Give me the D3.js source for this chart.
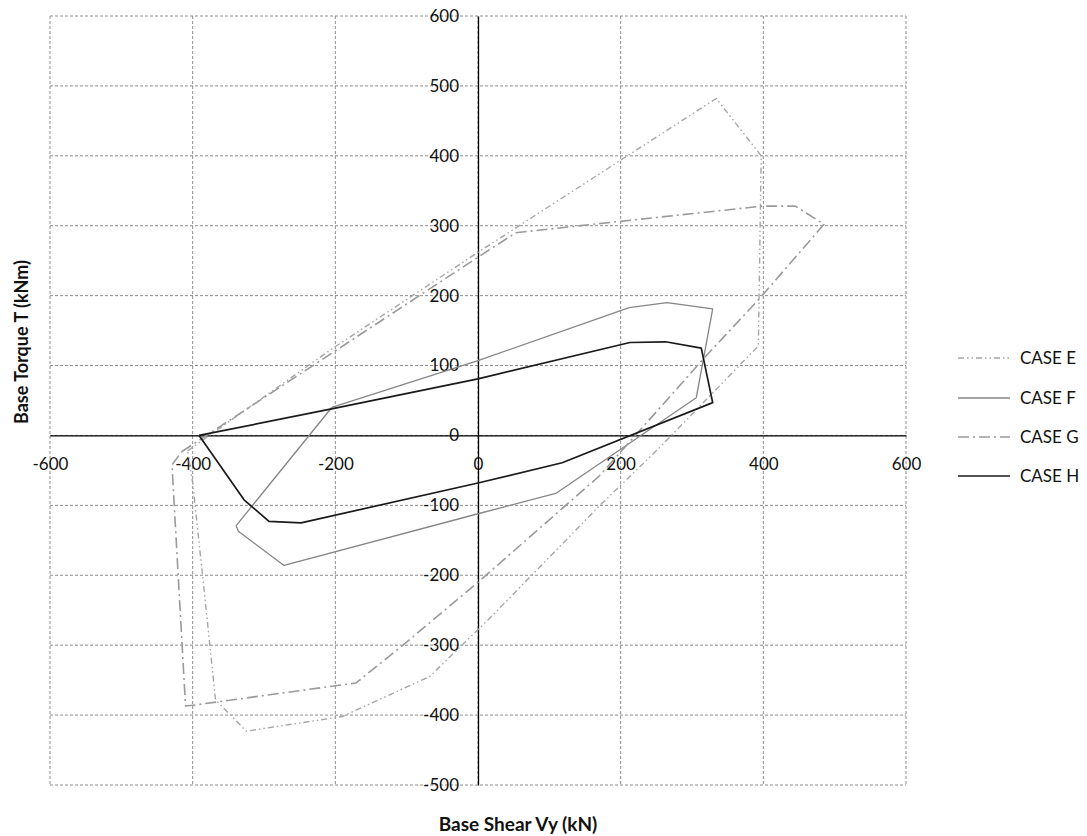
<!DOCTYPE html>
<html><head><meta charset="utf-8">
<script src="https://cdn.jsdelivr.net/npm/d3@7"></script>
<style>body{margin:0;background:#fff;} text{font-family:Lato,"Open Sans",sans-serif;}</style>
</head><body>
<svg id="c" width="1087" height="836"></svg>
<script>
const xTicks = [-600,-400,-200,0,200,400,600];
const yTicks = [-500,-400,-300,-200,-100,0,100,200,300,400,500,600];
const seriesNames = ["CASE E","CASE F","CASE G","CASE H"];
const caseE = [[-407,-22],[-206,123],[0,262],[334,482],[397,400],[393,128],[254,-18],[170,-101],[15,-263],[-68,-345],[-190,-402],[-325,-423],[-368,-378],[-386,-201],[-400,-68],[-407,-22]];
const caseF = [[-205,40],[0,107],[212,183],[265,190],[329,181],[306,54],[109,-83],[0,-112],[-272,-186],[-336,-137],[-339,-129],[-205,40]];
const caseG = [[-415,-23],[0,255],[53,290],[170,303],[398,328],[445,328],[485,302],[394,195],[319,113],[170,-58],[0,-210],[-110,-304],[-171,-354],[-400,-386],[-410,-387],[-429,-42],[-415,-23]];
const caseH = [[-391,0],[-200,39],[0,81],[213,133],[263,134],[313,125],[329,47],[118,-39],[0,-68],[-248,-125],[-293,-123],[-328,-92],[-391,0]];

const styles = [
  {data:caseE, color:"#a6a6a6", width:1.4, dash:"6,3,1.5,3,1.5,3"},
  {data:caseF, color:"#858585", width:1.3, dash:null},
  {data:caseG, color:"#9a9a9a", width:1.6, dash:"11,4,2,4"},
  {data:caseH, color:"#1a1a1a", width:1.7, dash:null}
];

const svg = d3.select("#c");
const x = d3.scaleLinear().domain([-600,600]).range([50,906]);
const y = d3.scaleLinear().domain([-500,600]).range([785,16]);

// grid
const grid = svg.append("g");
grid.selectAll("line.v").data(xTicks).enter().append("line")
  .attr("x1",d=>x(d)).attr("x2",d=>x(d)).attr("y1",y(600)).attr("y2",y(-500))
  .attr("stroke","#8c8c8c").attr("stroke-width",1).attr("stroke-dasharray","3,2");
grid.selectAll("line.h").data(yTicks).enter().append("line")
  .attr("x1",x(-600)).attr("x2",x(600)).attr("y1",d=>y(d)).attr("y2",d=>y(d))
  .attr("stroke","#8c8c8c").attr("stroke-width",1).attr("stroke-dasharray","3,2");

// axes through zero
const xAxis = d3.axisBottom(x).tickValues(xTicks).tickSize(0).tickSizeOuter(0).tickPadding(22).tickFormat(d3.format("d"));
const gx = svg.append("g").attr("transform",`translate(0,${y(0)})`).call(xAxis);
const yAxis = d3.axisLeft(y).tickValues(yTicks).tickSize(0).tickSizeOuter(0).tickPadding(19).tickFormat(d3.format("d"));
const gy = svg.append("g").attr("transform",`translate(${x(0)},0)`).call(yAxis);
[gx,gy].forEach(g=>{
  g.select(".domain").attr("stroke","#000").attr("stroke-width",1.3);
  g.selectAll("text").attr("font-family","Lato, 'Open Sans', sans-serif").attr("font-size",17).attr("fill","#111");
});
gx.selectAll("text").text(d=> d<0 ? "-"+Math.abs(d) : d);
gy.selectAll("text").text(d=> d<0 ? "-"+Math.abs(d) : d);

// series
const line = d3.line().x(d=>x(d[0])).y(d=>y(d[1]));
styles.forEach(s=>{
  svg.append("path").attr("d",line(s.data)).attr("fill","none")
    .attr("stroke",s.color).attr("stroke-width",s.width)
    .attr("stroke-dasharray",s.dash).attr("stroke-linejoin","round");
});

// axis titles
svg.append("text").attr("x",518).attr("y",831).attr("text-anchor","middle")
  .attr("font-size",19).attr("font-weight","bold").attr("fill","#111").text("Base Shear Vy (kN)");
svg.append("text").attr("transform","translate(28,342) rotate(-90)").attr("text-anchor","middle")
  .attr("font-size",18).attr("font-weight","bold").attr("fill","#111").text("Base Torque T (kNm)");

// legend
const legY = [358,398,437,476];
const leg = svg.append("g");
seriesNames.forEach((n,i)=>{
  const s = styles[i];
  leg.append("line").attr("x1",958).attr("x2",1010).attr("y1",legY[i]).attr("y2",legY[i])
    .attr("stroke",s.color).attr("stroke-width",s.width).attr("stroke-dasharray",s.dash);
  leg.append("text").attr("x",1020).attr("y",legY[i]).attr("dy","0.35em")
    .attr("font-size",17).attr("fill","#111").text(n);
});
</script>
</body></html>
